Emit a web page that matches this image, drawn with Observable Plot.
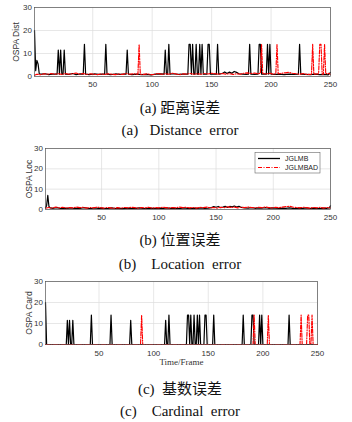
<!DOCTYPE html>
<html><head><meta charset="utf-8">
<script src="https://cdn.jsdelivr.net/npm/d3@7"></script>
<script src="https://cdn.jsdelivr.net/npm/@observablehq/plot@0.6"></script>
<style>
body{margin:0;background:#fff;}
#root{position:relative;width:352px;height:422px;overflow:hidden;background:#fff;}
.cap{position:absolute;left:4px;width:352px;height:20px;line-height:20px;text-align:center;font-family:"Liberation Serif","Noto Sans CJK SC",serif;font-size:15px;color:#111;white-space:pre;}
.chart{position:absolute;left:0;}
</style></head><body><div id="root"></div>
<script>
// ---------- data: [frame, value] vertices ----------
const xTicks = [50, 100, 150, 200, 250];
const yTicks = [0, 10, 20, 30];
const seriesNames = ["JGLMB", "JGLMBAD"];

const distJGLMB = [[1,20],[2,2.5],[3,7],[4,5.5],[5,1.2],[7,1],[10,1.2],[13,0.8],[16,1],[20,1],[21,11.5],[22,1],[23,11.5],[24,1],[25,1],[26,11.5],[27,1],[30,0.9],[33,1.3],[36,0.8],[39,1.1],[42,1],[43,14],[44,1],[47,0.8],[51,1.1],[55,0.9],[58,1],[60,1],[61,14],[62,1],[65,0.8],[69,1.1],[73,0.9],[76,1],[78,1],[79,11.5],[80,1],[83,0.8],[87,1],[91,0.8],[95,0.9],[99,0.7],[103,1],[107,1.1],[110,1],[111,11.5],[112,1],[113,1],[114,14],[115,1],[118,1.2],[122,0.9],[126,1],[130,1],[131,14],[132,14],[133,1],[134,14],[135,1],[136,1],[137,14],[138,1],[139,1],[140,14],[141,1],[142,14],[143,1],[146,1],[147,14],[148,14],[149,1],[152,1],[154,1],[155,14],[156,1],[159,1.3],[161,2],[163,1.3],[165,1.9],[167,1.4],[169,2.2],[171,1.8],[173,1.2],[176,1],[179,0.9],[181,1],[182,14],[183,1],[186,0.9],[189,1],[190,14],[191,14],[192,1],[196,1],[197,14],[198,1],[199,14],[200,1],[203,0.9],[207,1],[211,0.8],[215,1],[219,0.9],[223,1],[224,14],[225,1],[229,0.9],[233,0.8],[237,1],[241,0.8],[245,0.9],[248,0.7],[250,1.8]];

const distJGLMBAD = [[1,0.5],[3,1],[6,0.8],[9,1.2],[12,1],[15,1.3],[18,1],[21,1.2],[24,0.9],[27,1.3],[30,1],[33,1.2],[36,1.5],[39,1],[42,1.3],[45,0.9],[48,1.2],[51,1],[54,0.8],[57,1.1],[60,0.9],[63,1.2],[66,1],[69,0.8],[72,1.1],[75,0.9],[78,1.3],[81,1],[84,1.2],[88,1],[89,14],[90,1],[93,0.9],[96,1.2],[99,0.8],[102,1],[105,1.3],[108,1],[111,1.2],[114,1],[117,1.4],[120,1.1],[123,0.8],[126,1.2],[129,1],[132,1.3],[135,1],[138,1.2],[141,1],[144,1.3],[147,1.1],[150,1.4],[153,1.2],[156,1],[159,1.3],[162,1],[165,1.2],[168,0.9],[171,1.2],[174,1],[177,1.4],[180,1.6],[183,1.3],[186,1.5],[189,1.2],[191,1.4],[192,14],[193,1.3],[196,1.1],[199,1.4],[202,1],[204,1.2],[205,14],[206,1.2],[209,1.4],[212,1.6],[215,1.8],[218,1.4],[221,1.2],[224,1],[227,1.3],[230,0.9],[234,1],[235,14],[236,1],[240,1.2],[241,14],[242,14],[243,1],[244,1],[245,14],[246,1.2],[248,1.4],[250,1]];

const locJGLMB = [[1,0.8],[2,2],[3,7],[4,1.5],[5,0.8],[8,0.6],[11,0.9],[14,0.5],[17,0.7],[20,0.6],[23,0.8],[26,0.5],[29,0.7],[32,0.6],[35,0.9],[38,0.6],[41,0.5],[44,0.8],[47,0.6],[50,0.7],[53,0.5],[56,0.6],[59,0.8],[62,0.5],[65,0.6],[68,0.4],[71,0.6],[74,0.7],[77,0.5],[80,0.6],[83,0.8],[86,0.6],[89,0.5],[92,0.7],[95,0.6],[98,0.5],[101,0.7],[104,0.6],[107,0.8],[110,0.6],[113,0.7],[116,0.5],[119,0.6],[122,0.8],[125,0.6],[128,0.5],[131,0.7],[134,0.6],[137,0.8],[140,0.6],[143,0.7],[146,0.9],[148,1.4],[150,1.1],[152,1.5],[154,0.9],[156,1.2],[158,1.6],[160,1],[162,1.5],[164,1.3],[166,1.7],[168,1.2],[170,1.6],[172,1],[175,0.8],[178,0.7],[181,0.9],[184,0.6],[187,0.8],[190,0.7],[193,0.9],[196,0.6],[199,0.8],[202,0.7],[205,0.5],[208,0.7],[211,0.6],[214,0.8],[217,0.6],[220,0.5],[223,0.7],[226,0.6],[229,0.8],[232,0.5],[235,0.7],[238,0.6],[241,0.5],[244,0.7],[247,0.6],[249,0.8],[250,1.8]];

const locJGLMBAD = [[1,0.6],[4,1],[7,0.7],[10,1.2],[13,0.8],[16,1.1],[19,0.7],[22,1],[25,0.8],[28,1.2],[31,0.9],[34,1.1],[37,0.7],[40,1],[43,0.8],[46,1.2],[49,0.9],[52,0.7],[55,1],[58,0.8],[61,0.6],[64,0.9],[67,0.7],[70,1],[73,0.8],[76,1.1],[79,0.9],[82,0.7],[85,1],[88,0.8],[91,1.1],[94,0.7],[97,0.9],[100,0.8],[103,1.1],[106,0.9],[109,0.7],[112,1],[115,0.8],[118,1.2],[121,0.9],[124,1.1],[127,0.8],[130,1],[133,0.7],[136,1.1],[139,0.9],[142,1.2],[145,0.8],[148,1],[151,0.7],[154,1.1],[157,0.9],[160,1.3],[163,1],[166,1.2],[169,0.8],[172,1.1],[175,0.9],[178,1.2],[181,1],[184,0.8],[187,1.1],[190,0.9],[193,1.2],[196,1],[199,0.8],[202,1.1],[205,0.9],[208,1.2],[211,1.4],[214,1.6],[217,1.2],[220,1],[223,0.8],[226,1.1],[229,0.9],[232,0.7],[235,1],[238,0.8],[241,1.1],[244,0.7],[247,1],[250,0.8]];

const cardJGLMB = [[1,20],[2,0],[20,0],[21,11.5],[22,0],[23,11.5],[24,0],[25,0],[26,11.5],[27,0],[42,0],[43,14],[44,0],[60,0],[61,14],[62,0],[78,0],[79,11.5],[80,0],[110,0],[111,11.5],[112,0],[113,0],[114,14],[115,0],[130,0],[131,14],[132,14],[133,0],[134,14],[135,0],[136,0],[137,14],[138,0],[139,0],[140,14],[141,0],[142,14],[143,0],[146,0],[147,14],[148,14],[149,0],[154,0],[155,14],[156,0],[181,0],[182,14],[183,0],[189,0],[190,14],[191,14],[192,0],[196,0],[197,14],[198,0],[199,14],[200,0],[223,0],[224,14],[225,0],[250,0]];

const cardJGLMBAD = [[1,0],[88,0],[89,14],[90,0],[191,0],[192,14],[193,0],[204,0],[205,14],[206,0],[234,0],[235,14],[236,0],[240,0],[241,14],[242,14],[243,0],[244,0],[245,14],[246,0],[250,0]];

const captions = [
  ["(a) 距离误差", 108], ["(a)   Distance  error", 130],
  ["(b) 位置误差", 240], ["(b)    Location  error", 264],
  ["(c)  基数误差", 389], ["(c)    Cardinal  error", 411]
];

// ---------- drawing ----------
const root = document.getElementById("root");
const RED = "#ff0000";
const DASH = "4,1.5,1,1.5";

function chart(cfg) {
  const p = Plot.plot({
    width: 352, height: cfg.height,
    marginTop: cfg.mt, marginBottom: cfg.mb, marginLeft: cfg.ml, marginRight: cfg.mr,
    style: {fontFamily: "'Liberation Sans', Arial, sans-serif", fontSize: "8px", color: "#333", background: "transparent"},
    x: {domain: [1, 250]},
    y: {domain: [0, 30]},
    marks: [
      Plot.gridX(xTicks, {stroke: "#dcdcdc", strokeOpacity: 1, strokeWidth: 0.7}),
      Plot.gridY(yTicks, {stroke: "#dcdcdc", strokeOpacity: 1, strokeWidth: 0.7}),
      Plot.axisX(xTicks, {tickSize: 0, tickPadding: cfg.xpad, label: cfg.xlabel || null, labelAnchor: "center", labelOffset: cfg.xlabelOffset || 0, labelArrow: "none"}),
      Plot.axisY(yTicks, {tickSize: 0, tickPadding: 2.5, label: cfg.ylabel, labelAnchor: "center", labelOffset: cfg.ylabelOffset, labelArrow: "none"}),
      Plot.line(cfg.black, {x: d => d[0], y: d => d[1], stroke: "#000", strokeWidth: 1.2, curve: "linear"}),
      Plot.line(cfg.red, {x: d => d[0], y: d => d[1], stroke: RED, strokeWidth: 1.15, strokeDasharray: DASH, curve: "linear"}),
      Plot.frame({stroke: "#555", strokeWidth: 0.7})
    ]
  });
  p.classList.add("chart");
  p.style.top = cfg.top + "px";
  d3.select(p).select('[aria-label="x-axis label"]').attr("font-family", "'Liberation Serif', serif").attr("font-size", 9);
  d3.select(p).select('[aria-label="y-axis label"]').attr("font-size", 8.5);
  root.appendChild(p);
  return p;
}

chart({top: 0, height: 92, mt: 7, mb: 16, ml: 34, mr: 22, xpad: 5, ylabel: "OSPA Dist", ylabelOffset: 22, black: distJGLMB, red: distJGLMBAD});
const p2 = chart({top: 140, height: 84, mt: 8, mb: 15, ml: 45, mr: 22, xpad: 5, ylabel: "OSPA Loc", ylabelOffset: 20, black: locJGLMB, red: locJGLMBAD});
chart({top: 272, height: 96, mt: 9, mb: 24, ml: 45, mr: 35, xpad: 6, ylabel: "OSPA Card", ylabelOffset: 20, xlabel: "Time/Frame", xlabelOffset: 20, black: cardJGLMB, red: cardJGLMBAD});

// legend for chart (b), placed relative to the frame's top-right corner
{
  const xr = p2.scale("x").range[1];
  const yt = p2.scale("y").range[1];
  const g = d3.select(p2).append("g").attr("font-family", "'Liberation Sans', Arial, sans-serif").attr("font-size", 7).attr("fill", "#222").attr("text-anchor", "start");
  g.append("rect").attr("x", xr - 75).attr("y", yt + 4.5).attr("width", 65).attr("height", 20.5).attr("fill", "#fff").attr("stroke", "#666").attr("stroke-width", 0.6);
  const styles = [{stroke: "#000", w: 1.3, dash: null}, {stroke: RED, w: 1.1, dash: DASH}];
  seriesNames.forEach((name, i) => {
    const y = yt + 10.5 + i * 9;
    g.append("line").attr("x1", xr - 72).attr("x2", xr - 50).attr("y1", y).attr("y2", y)
      .attr("stroke", styles[i].stroke).attr("stroke-width", styles[i].w).attr("stroke-dasharray", styles[i].dash);
    g.append("text").attr("x", xr - 45).attr("y", y).attr("dy", "0.35em").attr("text-anchor", "start").text(name);
  });
}

for (const [t, cy] of captions) {
  const d = document.createElement("div");
  d.className = "cap";
  d.style.top = (cy - 10) + "px";
  d.textContent = t;
  root.appendChild(d);
}
</script></body></html>
